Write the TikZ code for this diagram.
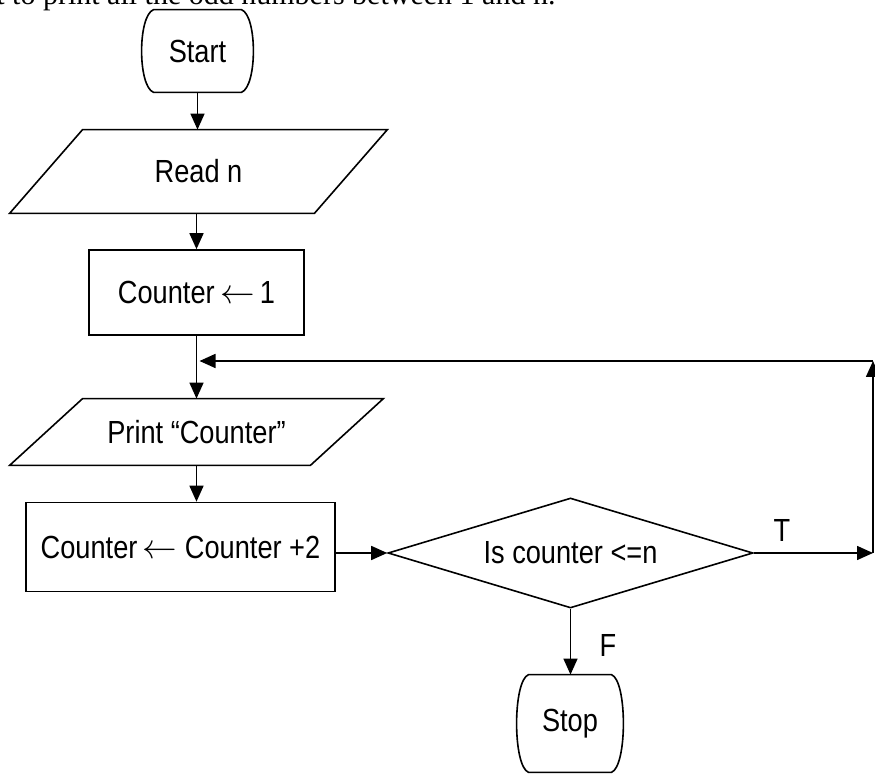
\documentclass[tikz,border=0pt]{standalone}
\usepackage{fontspec}
\setmainfont{Liberation Sans}[FakeStretch=0.85]
\newfontfamily\captionserif{Liberation Serif}
\usepackage{tikz}
\usetikzlibrary{arrows.meta,calc,shapes.geometric}

% outline of a start/stop box: flat top and bottom, bulging sides
\newcommand{\termoutline}[1]{%
  \draw[flowline] ([xshift=8pt]#1.north west) -- ([xshift=-8pt]#1.north east)
    .. controls ([yshift=-3pt]#1.north east) and ([yshift=3pt]#1.south east) .. ([xshift=-8pt]#1.south east)
    -- ([xshift=8pt]#1.south west)
    .. controls ([yshift=3pt]#1.south west) and ([yshift=-3pt]#1.north west) .. cycle;}

% outline of an input/output box (parallelogram)
\newcommand{\iooutline}[2]{%
  \draw[flowline] ([xshift=#2]#1.north west) -- (#1.north east)
    -- ([xshift=-#2]#1.south east) -- (#1.south west) -- cycle;}

\begin{document}
\begin{tikzpicture}[x=0.5pt,y=-0.5pt,
  flowline/.style={line width=0.8pt},
  arr/.style={flowline,-{Triangle[length=8pt,width=7pt]}},
  flow/.style={font=\fontsize{16pt}{19pt}\selectfont, inner sep=0pt},
  termnode/.style={flow, minimum width=#1, minimum height=41pt},
  ionode/.style={flow, minimum width=#1},
  procbox/.style={flow, draw, flowline, minimum width=#1},
  decnode/.style={flow, draw, flowline, diamond, aspect=3.3,
    minimum width=182.5pt, minimum height=55pt},
  lbl/.style={font=\fontsize{16pt}{19pt}\selectfont, inner sep=0pt}]
  \useasboundingbox (0,0) rectangle (875,774);

  % cut-off caption line
  \node[anchor=base west, inner sep=0pt, font=\captionserif\fontsize{15pt}{18pt}\selectfont]
    (caption) at (-4,5) {t to print all the odd numbers between 1 and n.};

  % Boxes
  \node[termnode=59.5pt] (start) at (197.5,51) {Start};
  \termoutline{start}
  \node[ionode=188.5pt, minimum height=41.5pt] (readn) at (198.5,171.5) {Read n};
  \iooutline{readn}{36.5pt}
  \node[procbox=107.5pt, minimum height=42.5pt] (init) at (196.5,292.5) {Counter\,$\leftarrow$\,1};
  \node[ionode=186.5pt, minimum height=33pt] (print) at (196.5,432) {Print “Counter”};
  \iooutline{print}{36.5pt}
  \node[procbox=154.5pt, minimum height=44.5pt] (incr) at (180.5,547) {Counter\,$\leftarrow$ Counter +2};
  \node[decnode] (test) at (570.5,553) {Is counter <=n};
  \node[termnode=57pt, minimum height=48.5pt] (stop) at (570,723.5) {Stop};
  \termoutline{stop}

  % Loop corners
  \coordinate (tcorner) at (873,553);
  \coordinate (tback) at (873,361);

  % Connectors
  \draw[arr] (start.south) -- (start.south |- readn.north);
  \draw[arr] (readn.south -| init.north) -- (init.north);
  \draw[arr] (init.south) -- (init.south |- print.north);
  \draw[arr] (print.south) -- (print.south |- incr.north);
  \draw[arr] (test.west -| incr.east) -- (test.west);
  \draw[arr] (test.east) -- (tcorner);
  \draw[arr] (tcorner) -- (tback);
  \draw[arr] (tback) -- ([xshift=1.5pt]tback -| init.south);
  \draw[arr] (test.south) -- (test.south |- stop.north);

  % Branch labels
  \node[lbl] (tlabel) at (782,530) {T};
  \node[lbl] (flabel) at (608,645) {F};
\end{tikzpicture}
\end{document}
